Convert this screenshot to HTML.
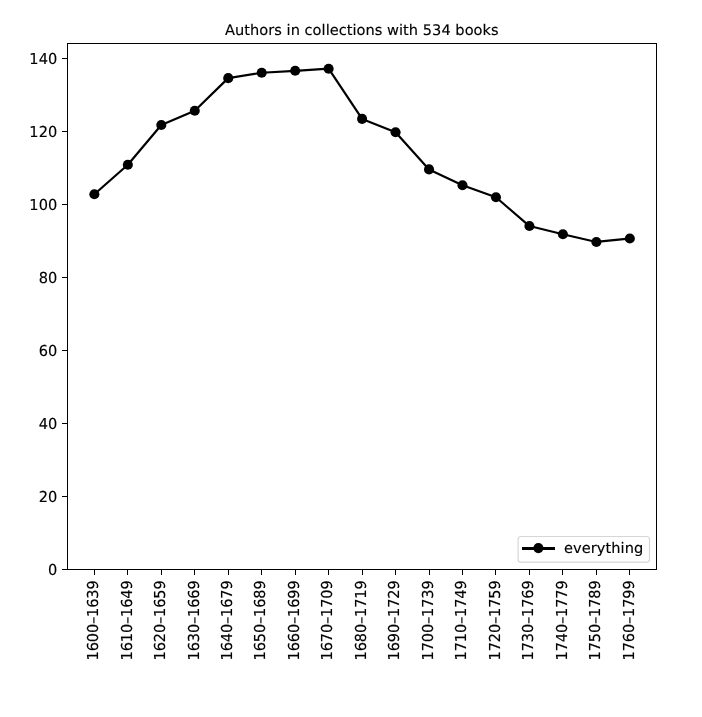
<!DOCTYPE html>
<html lang="en"><head><meta charset="utf-8"><title>Authors in collections with 534 books</title>
<style>
html,body{margin:0;padding:0;background:#fff;}
body{width:702px;height:717px;overflow:hidden;}
svg{display:block;}
text{font-family:"DejaVu Sans","Liberation Sans",sans-serif;fill:#000;stroke:#000;stroke-width:0.15px;text-rendering:geometricPrecision;}
</style></head><body>
<svg width="702" height="717" viewBox="0 0 702 717">
<rect x="0" y="0" width="702" height="717" fill="#fff"/>
<text transform="translate(361.8,35)" font-size="14.58" text-anchor="middle" textLength="273.6" lengthAdjust="spacing">Authors in collections with 534 books</text>
<polyline points="94.37,194.25 127.84,164.70 161.30,125.00 194.77,110.70 228.24,78.15 261.70,72.75 295.17,70.80 328.63,68.70 362.10,118.90 395.57,132.20 429.03,169.40 462.50,185.25 495.96,197.25 529.43,226.05 562.90,234.20 596.36,241.95 629.83,238.55" fill="none" stroke="#000" stroke-width="2.19" stroke-linejoin="round" stroke-linecap="square"/>
<g fill="#000">
<circle cx="94.37" cy="194.25" r="5.05"/><circle cx="127.84" cy="164.70" r="5.05"/><circle cx="161.30" cy="125.00" r="5.05"/><circle cx="194.77" cy="110.70" r="5.05"/><circle cx="228.24" cy="78.15" r="5.05"/><circle cx="261.70" cy="72.75" r="5.05"/><circle cx="295.17" cy="70.80" r="5.05"/><circle cx="328.63" cy="68.70" r="5.05"/><circle cx="362.10" cy="118.90" r="5.05"/><circle cx="395.57" cy="132.20" r="5.05"/><circle cx="429.03" cy="169.40" r="5.05"/><circle cx="462.50" cy="185.25" r="5.05"/><circle cx="495.96" cy="197.25" r="5.05"/><circle cx="529.43" cy="226.05" r="5.05"/><circle cx="562.90" cy="234.20" r="5.05"/><circle cx="596.36" cy="241.95" r="5.05"/><circle cx="629.83" cy="238.55" r="5.05"/>
</g>
<g shape-rendering="crispEdges" stroke="#000" stroke-width="1" fill="none">
<rect x="67.5" y="43.5" width="589.0" height="526.0"/>
<line x1="62" y1="569.5" x2="67" y2="569.5"/><line x1="62" y1="496.5" x2="67" y2="496.5"/><line x1="62" y1="423.5" x2="67" y2="423.5"/><line x1="62" y1="350.5" x2="67" y2="350.5"/><line x1="62" y1="277.5" x2="67" y2="277.5"/><line x1="62" y1="204.5" x2="67" y2="204.5"/><line x1="62" y1="131.5" x2="67" y2="131.5"/><line x1="62" y1="58.5" x2="67" y2="58.5"/>
<line x1="94.5" y1="570" x2="94.5" y2="575"/><line x1="127.5" y1="570" x2="127.5" y2="575"/><line x1="161.5" y1="570" x2="161.5" y2="575"/><line x1="194.5" y1="570" x2="194.5" y2="575"/><line x1="228.5" y1="570" x2="228.5" y2="575"/><line x1="261.5" y1="570" x2="261.5" y2="575"/><line x1="295.5" y1="570" x2="295.5" y2="575"/><line x1="328.5" y1="570" x2="328.5" y2="575"/><line x1="362.5" y1="570" x2="362.5" y2="575"/><line x1="395.5" y1="570" x2="395.5" y2="575"/><line x1="429.5" y1="570" x2="429.5" y2="575"/><line x1="462.5" y1="570" x2="462.5" y2="575"/><line x1="495.5" y1="570" x2="495.5" y2="575"/><line x1="529.5" y1="570" x2="529.5" y2="575"/><line x1="562.5" y1="570" x2="562.5" y2="575"/><line x1="596.5" y1="570" x2="596.5" y2="575"/><line x1="629.5" y1="570" x2="629.5" y2="575"/>
</g>
<g font-size="14.58" text-anchor="end">
<text transform="translate(57.2,575.00) scale(1,1.035)">0</text><text transform="translate(57.2,502.00) scale(1,1.035)">20</text><text transform="translate(57.2,429.00) scale(1,1.035)">40</text><text transform="translate(57.2,356.00) scale(1,1.035)">60</text><text transform="translate(57.2,283.00) scale(1,1.035)">80</text><text transform="translate(57.2,210.00) scale(1,1.035)">100</text><text transform="translate(57.2,137.00) scale(1,1.035)">120</text><text transform="translate(57.2,64.00) scale(1,1.035)">140</text>
</g>
<g font-size="14.58" text-anchor="end">
<text transform="translate(98.00,580.3) rotate(-90) scale(1,1.035)" textLength="80.1" lengthAdjust="spacing">1600–1639</text><text transform="translate(132.00,580.3) rotate(-90) scale(1,1.035)" textLength="80.1" lengthAdjust="spacing">1610–1649</text><text transform="translate(165.00,580.3) rotate(-90) scale(1,1.035)" textLength="80.1" lengthAdjust="spacing">1620–1659</text><text transform="translate(199.00,580.3) rotate(-90) scale(1,1.035)" textLength="80.1" lengthAdjust="spacing">1630–1669</text><text transform="translate(232.00,580.3) rotate(-90) scale(1,1.035)" textLength="80.1" lengthAdjust="spacing">1640–1679</text><text transform="translate(265.00,580.3) rotate(-90) scale(1,1.035)" textLength="80.1" lengthAdjust="spacing">1650–1689</text><text transform="translate(299.00,580.3) rotate(-90) scale(1,1.035)" textLength="80.1" lengthAdjust="spacing">1660–1699</text><text transform="translate(332.00,580.3) rotate(-90) scale(1,1.035)" textLength="80.1" lengthAdjust="spacing">1670–1709</text><text transform="translate(366.00,580.3) rotate(-90) scale(1,1.035)" textLength="80.1" lengthAdjust="spacing">1680–1719</text><text transform="translate(399.00,580.3) rotate(-90) scale(1,1.035)" textLength="80.1" lengthAdjust="spacing">1690–1729</text><text transform="translate(433.00,580.3) rotate(-90) scale(1,1.035)" textLength="80.1" lengthAdjust="spacing">1700–1739</text><text transform="translate(466.00,580.3) rotate(-90) scale(1,1.035)" textLength="80.1" lengthAdjust="spacing">1710–1749</text><text transform="translate(500.00,580.3) rotate(-90) scale(1,1.035)" textLength="80.1" lengthAdjust="spacing">1720–1759</text><text transform="translate(533.00,580.3) rotate(-90) scale(1,1.035)" textLength="80.1" lengthAdjust="spacing">1730–1769</text><text transform="translate(567.00,580.3) rotate(-90) scale(1,1.035)" textLength="80.1" lengthAdjust="spacing">1740–1779</text><text transform="translate(600.00,580.3) rotate(-90) scale(1,1.035)" textLength="80.1" lengthAdjust="spacing">1750–1789</text><text transform="translate(634.00,580.3) rotate(-90) scale(1,1.035)" textLength="80.1" lengthAdjust="spacing">1760–1799</text>
</g>
<rect x="518.1" y="536.5" width="131.4" height="25.6" rx="2.9" ry="2.9" fill="#fff" fill-opacity="0.8" stroke="#ccc" stroke-opacity="0.8" stroke-width="1.2"/>
<rect x="522" y="547" width="33" height="3" fill="#000" shape-rendering="crispEdges"/>
<circle cx="538.4" cy="548.1" r="5.05" fill="#000"/>
<text transform="translate(564,552.9)" font-size="14.58" textLength="79.2" lengthAdjust="spacing">everything</text>
</svg>
</body></html>
